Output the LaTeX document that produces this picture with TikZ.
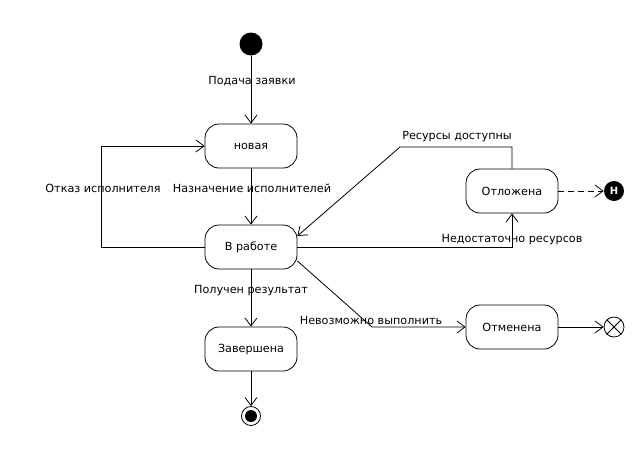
\documentclass[tikz,border=0pt]{standalone}
\usepackage{fontspec}
\setmainfont{DejaVu Sans}
\usetikzlibrary{arrows.meta}
\tikzset{
  state/.style = {draw, rounded corners = 14pt, minimum width = 92pt, minimum height = 44pt, font = \fontsize{11.2}{13}\selectfont},
  lbl/.style = {font = \fontsize{11.2}{13}\selectfont, inner sep = 0pt},
  arr/.style = {-{Straight Barb[length = 8pt, width = 12pt]}}
}
\begin{document}
\begin{tikzpicture}[x = 1pt, y = -1pt, line width = 0.8pt]
\useasboundingbox (0,0) rectangle (642,451);
\node[circle, fill = black, minimum width = 20pt, minimum height = 23pt, inner sep = 0pt] (init) at (251,44) {};
\node[state] (new) at (251,146) {новая};
\node[state] (work) at (251,247) {В работе};
\node[state] (done) at (251,349) {Завершена};
\node[state] (post) at (512,191) {Отложена};
\node[state] (cancel) at (512,327) {Отменена};
\node[circle, fill = black, text = white, minimum size = 20pt, inner sep = 0pt, font = \fontsize{10}{11}\selectfont\bfseries] (hist) at (614,191) {H};
\node[circle, draw, minimum size = 20pt, inner sep = 0pt] (term) at (614,327) {};
\draw (term.north west) -- (term.south east) (term.north east) -- (term.south west);
\node[circle, draw, minimum size = 19pt, inner sep = 0pt] (final) at (251,416) {};
\node[circle, fill = black, minimum size = 12pt, inner sep = 0pt] at (final) {};
\coordinate (resknee) at (400,147);
\coordinate (cancelknee) at (372,327);
\draw[arr] (init) -- (new);
\draw[arr] (new) -- (work);
\draw[arr] (work) -- (done);
\draw[arr] (done) -- (final);
\draw[arr] (work.west) -- ++(-103,0) |- (new.west);
\draw[arr] (work.east) -| (post.south);
\draw[arr] (post.north) |- (resknee) -- ([yshift = 11pt]work.east);
\draw[arr] ([yshift = -14pt]work.east) -- (cancelknee) -- (cancel.west);
\draw[arr] (cancel) -- (term);
\draw[arr, dashed, dash pattern = on 6pt off 4pt] (post) -- (hist);
\node[lbl] at (252,81) {Подача заявки};
\node[lbl] at (252,188) {Назначение исполнителей};
\node[lbl] at (103,188) {Отказ исполнителя};
\node[lbl] at (457,137) {Ресурсы доступны};
\node[lbl] at (512,240) {Недостаточно ресурсов};
\node[lbl] at (251,291) {Получен результат};
\node[lbl] at (371,320) {Невозможно выполнить};
\end{tikzpicture}
\end{document}
